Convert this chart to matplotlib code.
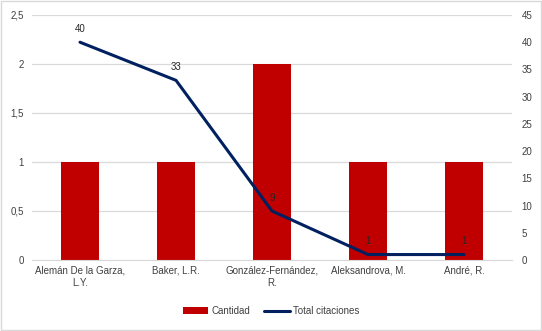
import numpy as np
import matplotlib.pyplot as plt
from matplotlib.patches import Rectangle

plt.rcParams['font.family'] = ['Liberation Sans', 'DejaVu Sans']

autores = ['Alemán De la Garza,\nL.Y.', 'Baker, L.R.', 'González-Fernández,\nR.',
           'Aleksandrova, M.', 'André, R.']
cantidad = [1, 1, 2, 1, 1]
citaciones = [40, 33, 9, 1, 1]

left_ticks = [0, 0.5, 1, 1.5, 2, 2.5]
left_labels = ['0', '0,5', '1', '1,5', '2', '2,5']
right_ticks = list(range(0, 50, 5))

bar_color = '#C00000'
line_color = '#002060'
grid_color = '#D9D9D9'
text_color = '#404040'

fig = plt.figure(figsize=(5.42, 3.31), dpi=100)
fig.patches.append(Rectangle((0.002, 0.003), 0.996, 0.994, transform=fig.transFigure,
                             fill=False, edgecolor='#D9D9D9', lw=1.0))

# plot area in pixels: x 32..512, y 15..260
ax = fig.add_axes([32 / 542, 1 - 260 / 331, 480 / 542, 245 / 331])
x = np.arange(len(autores))
ax.bar(x, cantidad, width=0.4, color=bar_color, label='Cantidad', zorder=2)
ax.set_xlim(-0.5, len(autores) - 0.5)
ax.set_ylim(0, 2.5)
ax.set_yticks(left_ticks)
ax.set_yticklabels(left_labels)
ax.yaxis.grid(True, color=grid_color, lw=0.9, zorder=0)
ax.set_axisbelow(True)
for s in ax.spines.values():
    s.set_visible(False)
ax.spines['bottom'].set_visible(True)
ax.spines['bottom'].set_color(grid_color)
ax.tick_params(axis='both', length=0, labelsize=7, colors=text_color)
ax.tick_params(axis='y', pad=6)
ax.tick_params(axis='x', pad=4)
ax.set_xticks(x)
ax.set_xticklabels(autores, linespacing=1.3)

ax2 = ax.twinx()
ax2.plot(x, citaciones, color=line_color, lw=2.2, label='Total citaciones',
         solid_capstyle='round', zorder=3)
ax2.set_ylim(0, 45)
ax2.set_yticks(right_ticks)
for s in ax2.spines.values():
    s.set_visible(False)
ax2.tick_params(axis='y', length=0, labelsize=7, colors=text_color, pad=7)
for xi, v in zip(x, citaciones):
    ax2.annotate(str(v), (xi, v), xytext=(0, 6), textcoords='offset points',
                 ha='center', va='bottom', fontsize=7, color='#262626', zorder=5)

h1, l1 = ax.get_legend_handles_labels()
h2, l2 = ax2.get_legend_handles_labels()
fig.legend(h1 + h2, l1 + l2, loc='center', bbox_to_anchor=(0.5, 1 - 311 / 331),
           ncol=2, frameon=False, fontsize=7, handlelength=2.6, handletextpad=0.3,
           columnspacing=1.5, labelcolor=text_color)

fig.savefig('out.png', dpi=100)
